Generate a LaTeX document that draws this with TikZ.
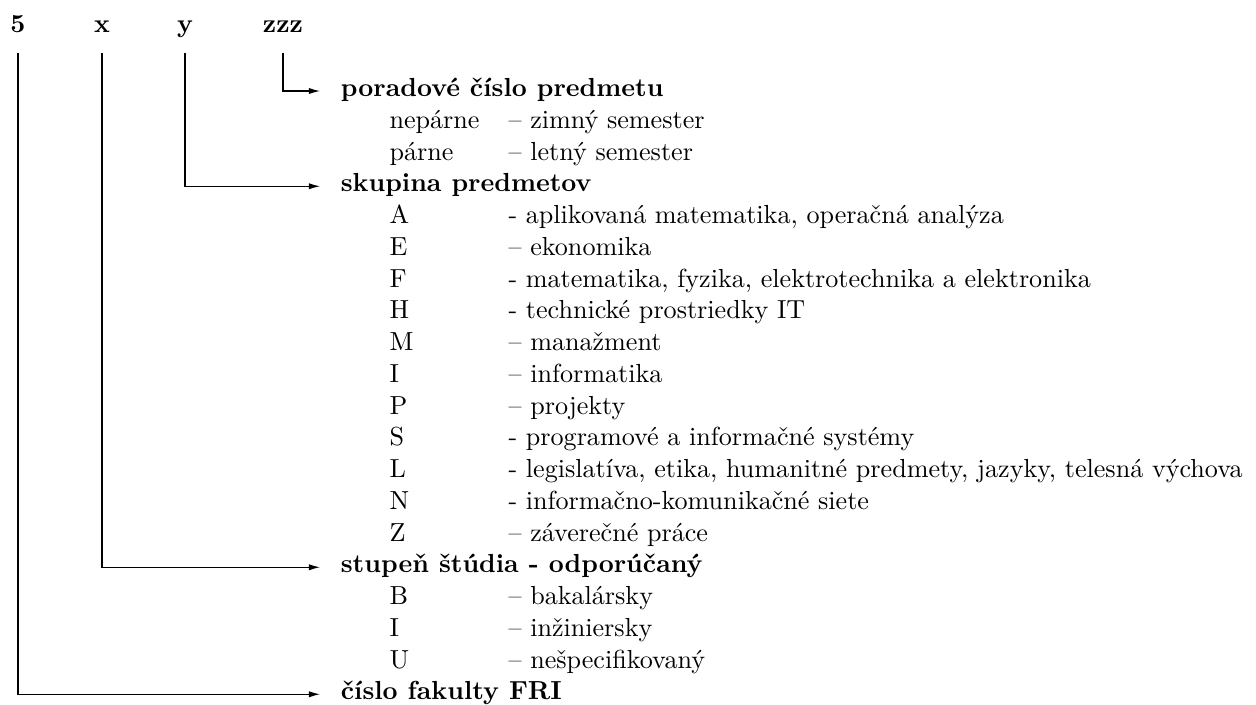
\documentclass[tikz,border=0pt]{standalone}
\usepackage{fontspec}
\usetikzlibrary{arrows.meta}
\begin{document}
\begin{tikzpicture}[x=0.3831pt,y=-0.3831pt,
  hdr/.style={font=\bfseries, anchor=base, inner xsep=0pt, inner ysep=7.66pt, text depth=0pt},
  head/.style={font=\bfseries, anchor=west, inner xsep=8pt, inner ysep=0pt, outer sep=0pt, text height=6.5pt, text depth=2.3pt},
  item/.style={anchor=base west, inner sep=0pt},
  conn/.style={line width=0.4pt, -{Latex[length=4.3pt,width=2.4pt]}}]
\useasboundingbox (0,0) rectangle (1256,704);
% header
\node[hdr] (n5) at (18,32) {5};
\node[hdr] (nx) at (102,32) {x};
\node[hdr] (ny) at (185,32) {y};
\node[hdr] (nz) at (283,32) {zzz};
% headings
\node[head] (h0)  at (320,91)     {poradové číslo predmetu};
\node[head] (h3)  at (320,186.25) {skupina predmetov};
\node[head] (h15) at (320,567.25) {stupeň štúdia - odporúčaný};
\node[head] (h19) at (320,694.25) {číslo fakulty FRI};
% items
\foreach \r/\a/\b in {1/nepárne/{– zimný semester},
  2/párne/{– letný semester},
  4/A/{- aplikovaná matematika, operačná analýza},
  5/E/{– ekonomika},
  6/F/{- matematika, fyzika, elektrotechnika a elektronika},
  7/H/{- technické prostriedky IT},
  8/M/{– manažment},
  9/I/{– informatika},
  10/P/{– projekty},
  11/S/{- programové a informačné systémy},
  12/L/{- legislatíva, etika, humanitné predmety, jazyky, telesná výchova},
  13/N/{- informačno-komunikačné siete},
  14/Z/{– záverečné práce},
  16/B/{– bakalársky},
  17/I/{– inžiniersky},
  18/U/{– nešpecifikovaný}}{
  \node[item] (a\r) at (389,{96.5+31.75*\r}) {\a};
  \node[item] (b\r) at (508,{96.5+31.75*\r}) {\b};
}
% connectors
\draw[conn] (nz.south) |- (h0.west);
\draw[conn] (ny.south) |- (h3.west);
\draw[conn] (nx.south) |- (h15.west);
\draw[conn] (n5.south) |- (h19.west);
\end{tikzpicture}
\end{document}
